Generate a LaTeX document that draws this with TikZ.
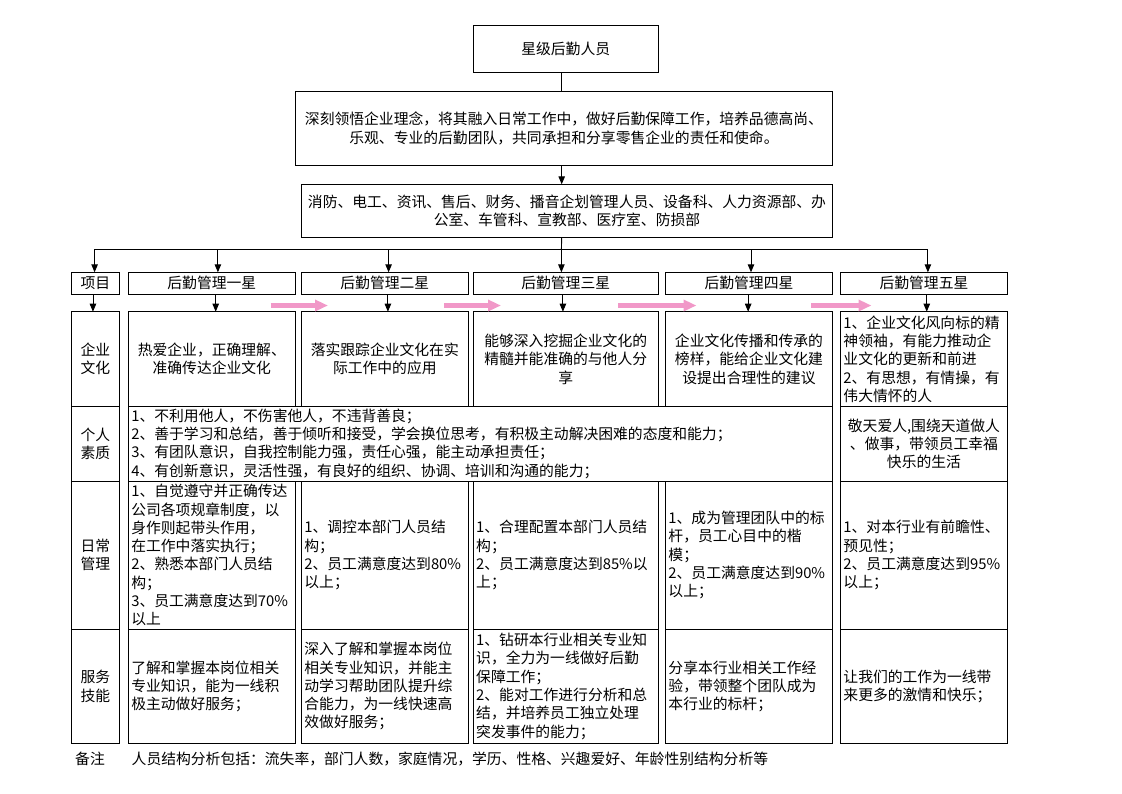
\documentclass[tikz,border=0pt]{standalone}
\usepackage{fontspec}
\setmainfont{Noto Sans CJK SC}
\usetikzlibrary{arrows.meta}
\definecolor{pinkc}{RGB}{241,152,200}
\tikzset{
  cell/.style={draw=black, line width=0.9pt, anchor=north west, inner xsep=3pt, inner ysep=1pt, outer sep=0pt,
    font=\fontsize{14.8}{18.3}\selectfont},
  ctext/.style={align=center},
  ltext/.style={align=left},
  arr/.style={line width=0.9pt, -{Triangle[width=6.5pt,length=8pt]}},
  plainline/.style={line width=0.9pt},
  parrow/.style={pinkc, line width=5pt, -{Triangle[width=11pt,length=13pt]}},
  note/.style={anchor=west, inner sep=0pt, font=\fontsize{14.8}{18.3}\selectfont},
}
\begin{document}
\begin{tikzpicture}[x=1pt,y=-1pt]
\useasboundingbox (0,0) rectangle (1122,793);

% top boxes
\node[cell, ctext, minimum width=185pt, minimum height=47.3pt] (title) at (473.2,25) {星级后勤人员};
\node[cell, ctext, minimum width=537.1pt, minimum height=74pt] (mission) at (295.4,91.3)
  {深刻领悟企业理念，将其融入日常工作中，做好后勤保障工作，培养品德高尚、\\乐观、专业的后勤团队，共同承担和分享零售企业的责任和使命。};
\node[cell, ctext, minimum width=531.1pt, minimum height=53pt] (dept) at (301.4,184.3)
  {消防、电工、资讯、售后、财务、播音企划管理人员、设备科、人力资源部、办\\公室、车管科、宣教部、医疗室、防损部};

% header row
\node[cell, ctext, minimum width=47.9pt, minimum height=22pt] (h0) at (71.4,272.3) {项目};
\node[cell, ctext, minimum width=167.2pt, minimum height=22pt] (h1) at (128.2,272.3) {后勤管理一星};
\node[cell, ctext, minimum width=166.8pt, minimum height=22pt] (h2) at (301.4,272.3) {后勤管理二星};
\node[cell, ctext, minimum width=185pt, minimum height=22pt] (h3) at (473.2,272.3) {后勤管理三星};
\node[cell, ctext, minimum width=167.1pt, minimum height=22pt] (h4) at (665.4,272.3) {后勤管理四星};
\node[cell, ctext, minimum width=167.1pt, minimum height=22pt] (h5) at (840.4,272.3) {后勤管理五星};

% left column
\node[cell, ctext, minimum width=47.9pt, minimum height=94.8pt] (l1) at (71.4,311.7) {企业\\文化};
\node[cell, ctext, minimum width=47.9pt, minimum height=74.5pt] (l2) at (71.4,406.5) {个人\\素质};
\node[cell, ctext, minimum width=47.9pt, minimum height=148.3pt] (l3) at (71.4,481) {日常\\管理};
\node[cell, ctext, minimum width=47.9pt, minimum height=114pt] (l4) at (71.4,629.3) {服务\\技能};

% row 1
\node[cell, ctext, minimum width=167.2pt, minimum height=94.8pt] (r1c1) at (128.2,311.7)
  {热爱企业，正确理解、\\准确传达企业文化};
\node[cell, ctext, minimum width=166.8pt, minimum height=94.8pt] (r1c2) at (301.4,311.7)
  {落实跟踪企业文化在实\\际工作中的应用};
\node[cell, ctext, minimum width=185pt, minimum height=94.8pt] (r1c3) at (473.2,311.7)
  {能够深入挖掘企业文化的\\精髓并能准确的与他人分\\享};
\node[cell, ctext, minimum width=167.1pt, minimum height=94.8pt] (r1c4) at (665.4,311.7)
  {企业文化传播和传承的\\榜样，能给企业文化建\\设提出合理性的建议};
\node[cell, ltext, text width=161pt, minimum width=167.1pt, minimum height=94.8pt] (r1c5) at (840.4,311.7)
  {1、企业文化风向标的精\\神领袖，有能力推动企\\业文化的更新和前进\\2、有思想，有情操，有\\伟大情怀的人};

% row 2
\node[cell, ltext, text width=698pt, minimum width=704.3pt, minimum height=74.5pt] (r2) at (128.2,406.5)
  {1、不利用他人，不伤害他人，不违背善良；\\2、善于学习和总结，善于倾听和接受，学会换位思考，有积极主动解决困难的态度和能力；\\3、有团队意识，自我控制能力强，责任心强，能主动承担责任；\\4、有创新意识，灵活性强，有良好的组织、协调、培训和沟通的能力；};
\node[cell, ctext, minimum width=167.1pt, minimum height=74.5pt] (r2c5) at (840.4,406.5)
  {敬天爱人,围绕天道做人\\、做事，带领员工幸福\\快乐的生活};

% row 3
\node[cell, ltext, text width=161pt, minimum width=167.2pt, minimum height=148.3pt] (r3c1) at (128.2,481)
  {1、自觉遵守并正确传达\\公司各项规章制度，以\\身作则起带头作用，\\在工作中落实执行；\\2、熟悉本部门人员结\\构；\\3、员工满意度达到70\%\\以上};
\node[cell, ltext, text width=161pt, minimum width=166.8pt, minimum height=148.3pt] (r3c2) at (301.4,481)
  {1、调控本部门人员结\\构；\\2、员工满意度达到80\%\\以上；};
\node[cell, ltext, text width=179pt, minimum width=185pt, minimum height=148.3pt] (r3c3) at (473.2,481)
  {1、合理配置本部门人员结\\构；\\2、员工满意度达到85\%以\\上；};
\node[cell, ltext, text width=161pt, minimum width=167.1pt, minimum height=148.3pt] (r3c4) at (665.4,481)
  {1、成为管理团队中的标\\杆，员工心目中的楷\\模；\\2、员工满意度达到90\%\\以上；};
\node[cell, ltext, text width=161pt, minimum width=167.1pt, minimum height=148.3pt] (r3c5) at (840.4,481)
  {1、对本行业有前瞻性、\\预见性；\\2、员工满意度达到95\%\\以上；};

% row 4
\node[cell, ltext, text width=161pt, minimum width=167.2pt, minimum height=114pt] (r4c1) at (128.2,629.3)
  {了解和掌握本岗位相关\\专业知识，能为一线积\\极主动做好服务；};
\node[cell, ltext, text width=161pt, minimum width=166.8pt, minimum height=114pt] (r4c2) at (301.4,629.3)
  {深入了解和掌握本岗位\\相关专业知识，并能主\\动学习帮助团队提升综\\合能力，为一线快速高\\效做好服务；};
\node[cell, ltext, text width=179pt, minimum width=185pt, minimum height=114pt] (r4c3) at (473.2,629.3)
  {1、钻研本行业相关专业知\\识，全力为一线做好后勤\\保障工作；\\2、能对工作进行分析和总\\结，并培养员工独立处理\\突发事件的能力；};
\node[cell, ltext, text width=161pt, minimum width=167.1pt, minimum height=114pt] (r4c4) at (665.4,629.3)
  {分享本行业相关工作经\\验，带领整个团队成为\\本行业的标杆；};
\node[cell, ltext, text width=161pt, minimum width=167.1pt, minimum height=114pt] (r4c5) at (840.4,629.3)
  {让我们的工作为一线带\\来更多的激情和快乐；};

% note
\node[note] (bz) at (75,759) {备注};
\node[note] (bztext) at (131.5,759) {人员结构分析包括：流失率，部门人数，家庭情况，学历、性格、兴趣爱好、年龄性别结构分析等};

% connectors top
\draw[plainline] ([xshift=-4pt]title.south) -- ([xshift=-4pt]title.south |- mission.north);
\draw[arr] ([xshift=-4pt]title.south |- mission.south) -- ([xshift=-4pt]title.south |- dept.north);
\coordinate (bus) at (561.4,249.3);
\draw[plainline] ([xshift=-4pt]title.south |- dept.south) -- (bus);
\coordinate (b0) at (94.6,249.3);
\coordinate (b1) at (217.9,249.3);
\coordinate (b2) at (388.6,249.3);
\coordinate (b3) at (561.4,249.3);
\coordinate (b4) at (751,249.3);
\coordinate (b5) at (927.9,249.3);
\draw[plainline] (b0) -- (b5);
\draw[arr] (b0) -- (b0 |- h0.north);
\draw[arr] (b1) -- (b1 |- h1.north);
\draw[arr] (b2) -- (b2 |- h2.north);
\draw[arr] (b3) -- (b3 |- h3.north);
\draw[arr] (b4) -- (b4 |- h4.north);
\draw[arr] (b5) -- (b5 |- h5.north);

% header to rows
\draw[arr] ([xshift=-2.4pt]h0.south) -- ([xshift=-2.4pt]h0.south |- l1.north);
\draw[arr] ([xshift=3.9pt]h1.south) -- ([xshift=3.9pt]h1.south |- r1c1.north);
\draw[arr] ([xshift=3.1pt]h2.south) -- ([xshift=3.1pt]h2.south |- r1c2.north);
\draw[arr] ([xshift=-2.8pt]h3.south) -- ([xshift=-2.8pt]h3.south |- r1c3.north);
\draw[arr] ([xshift=-0.8pt]h4.south) -- ([xshift=-0.8pt]h4.south |- r1c4.north);
\draw[arr] ([xshift=2.8pt]h5.south) -- ([xshift=2.8pt]h5.south |- r1c5.north);

% pink progression arrows
\draw[parrow] (270.5,305.5) -- (328,305.5);
\draw[parrow] (444,305.5) -- (501,305.5);
\draw[parrow] (618,305.5) -- (696.5,305.5);
\draw[parrow] (811,305.5) -- (871.5,305.5);
\end{tikzpicture}
\end{document}
